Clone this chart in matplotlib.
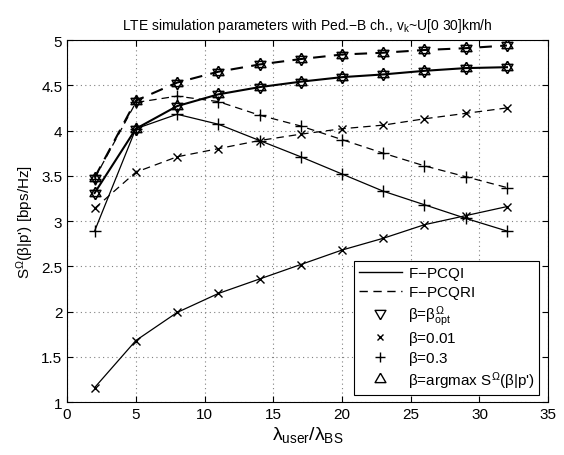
import numpy as np
import matplotlib.pyplot as plt
from matplotlib.lines import Line2D

plt.rcParams['font.family'] = ['Liberation Sans', 'DejaVu Sans']
plt.rcParams['mathtext.fontset'] = 'custom'
plt.rcParams['mathtext.rm'] = 'Liberation Sans'
plt.rcParams['mathtext.it'] = 'Liberation Sans'

ratio = [2, 5, 8, 11, 14, 17, 20, 23, 26, 29, 32]

# F-PCQI (solid)
pcqi_opt = [3.31, 4.02, 4.27, 4.40, 4.48, 4.54, 4.59, 4.62, 4.66, 4.69, 4.70]
pcqi_b001 = [1.16, 1.68, 1.99, 2.20, 2.36, 2.52, 2.68, 2.81, 2.96, 3.06, 3.16]
pcqi_b03 = [2.89, 4.02, 4.18, 4.07, 3.89, 3.71, 3.52, 3.33, 3.18, 3.03, 2.89]

# F-PCQRI (dashed)
pcqri_opt = [3.48, 4.33, 4.53, 4.65, 4.73, 4.79, 4.84, 4.86, 4.89, 4.91, 4.94]
pcqri_b001 = [3.14, 3.54, 3.71, 3.80, 3.89, 3.96, 4.02, 4.06, 4.13, 4.19, 4.25]
pcqri_b03 = [3.47, 4.31, 4.38, 4.32, 4.17, 4.05, 3.90, 3.75, 3.61, 3.49, 3.37]

# triangles centred on their centroid so the two overlap as a star
tri_up = [(0, 1), (-0.866, -0.5), (0.866, -0.5), (0, 1)]
tri_dn = [(0, -1), (-0.866, 0.5), (0.866, 0.5), (0, -1)]

fig = plt.figure(figsize=(5.64, 4.56), dpi=100)
ax = fig.add_axes([0.119, 0.116, 0.853, 0.794])

dash = (0, (6, 4))
for opt, b001, b03, ls in [(pcqi_opt, pcqi_b001, pcqi_b03, '-'),
                           (pcqri_opt, pcqri_b001, pcqri_b03, dash)]:
    ax.plot(ratio, b001, color='k', ls=ls, lw=0.9, marker='x', ms=6, mew=1.0)
    ax.plot(ratio, b03, color='k', ls=ls, lw=0.9, marker='+', ms=8, mew=1.0)
    ax.plot(ratio, opt, color='k', ls=ls, lw=1.5, marker=tri_dn, ms=9, mew=1.1, mfc='none')
    ax.plot(ratio, opt, color='k', ls='none', marker=tri_up, ms=9, mew=1.1, mfc='none')

ax.set_xlim(0, 35)
ax.set_ylim(1, 5)
ax.set_xticks(range(0, 36, 5))
ax.set_yticks([1, 1.5, 2, 2.5, 3, 3.5, 4, 4.5, 5])
ax.set_yticklabels(['1', '1.5', '2', '2.5', '3', '3.5', '4', '4.5', '5'])
ax.tick_params(direction='in', top=True, right=True, labelsize=11, length=4)
ax.grid(True, ls=(0, (1, 3)), color='0.5', lw=0.8)

ax.set_title(r'LTE simulation parameters with Ped.$-$B ch., v$_\mathregular{k}$~U[0 30]km/h',
             fontsize=10, pad=8)
ax.set_xlabel(r'$\lambda_\mathregular{user}/\lambda_\mathregular{BS}$', fontsize=14, labelpad=2)
ax.set_ylabel(r"S$^\Omega$($\beta$|p') [bps/Hz]", fontsize=11)

handles = [
    Line2D([], [], color='k', ls='-', lw=1.0),
    Line2D([], [], color='k', ls=dash, lw=1.0),
    Line2D([], [], color='k', ls='none', marker=tri_dn, ms=9, mfc='none'),
    Line2D([], [], color='k', ls='none', marker='x', ms=5),
    Line2D([], [], color='k', ls='none', marker='+', ms=7),
    Line2D([], [], color='k', ls='none', marker=tri_up, ms=9, mfc='none'),
]
labels = ['F$-$PCQI', 'F$-$PCQRI', r'$\beta$=$\beta^\Omega_\mathregular{opt}$',
          r'$\beta$=0.01', r'$\beta$=0.3', r"$\beta$=argmax S$^\Omega$($\beta$|p')"]
leg = ax.legend(handles, labels, loc='lower right', bbox_to_anchor=(0.981, 0.019),
                fontsize=11, fancybox=False, edgecolor='k', framealpha=1,
                borderaxespad=0.0, handlelength=2.8, handletextpad=0.4,
                labelspacing=0.12, borderpad=0.3)
leg.get_frame().set_linewidth(0.8)

fig.savefig('out.png', dpi=100)
